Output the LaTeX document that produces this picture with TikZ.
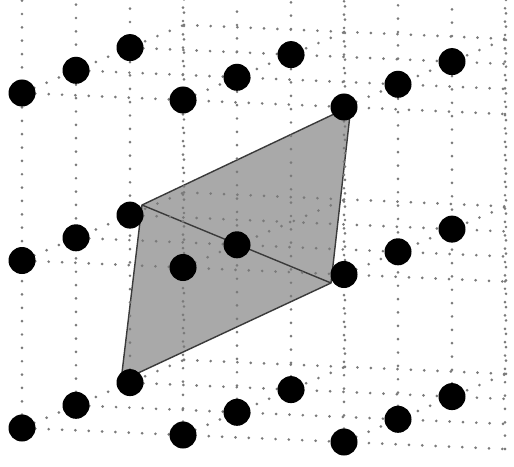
\documentclass[tikz,border=0pt]{standalone}
\usepackage{tikz}
\definecolor{gridgray}{HTML}{7A7A7A}
\definecolor{facegray}{HTML}{A9A9A9}
\definecolor{faceedge}{HTML}{3A3A3A}
\newcommand{\latdot}[2]{%
  \node[circle, fill=black, inner sep=0pt, minimum size=0.675cm] (#1) at (#2) {};}

\begin{document}
\begin{tikzpicture}[x={(4.025cm,-0.175cm)}, y={(1.35cm,0.5675cm)}, z={(0cm,4.1875cm)},
    gridline/.style={gridgray, line width=2.1pt, line cap=round, dash pattern=on 0pt off 9.5pt}]
      \useasboundingbox (-0.55cm,-0.95cm) rectangle (12.3cm,10.7cm);
      \clip (-0.55cm,-0.95cm) rectangle (12.3cm,10.7cm);
      \coordinate (f1) at (3.0cm,5.575cm);
      \coordinate (f2) at (8.225cm,8.05cm);
      \coordinate (f3) at (7.725cm,3.625cm);
      \coordinate (f4) at (2.475cm,1.175cm);
      \filldraw[fill=facegray, draw=faceedge, line width=1pt, line join=round]
        (f1) -- (f2) -- (f3) -- (f4) -- cycle;
      \draw[faceedge, line width=1pt] (f1) -- (f3);
      \foreach \k in {0,1,2} {
        \foreach \j in {0,...,3} \draw[gridline] (0,\j,\k) -- (3,\j,\k);
        \foreach \i in {0,...,3} \draw[gridline] (\i,0,\k) -- (\i,3,\k);
      }
      \foreach \i in {0,...,3} \foreach \j in {0,...,3}
        \draw[gridline] (\i,\j,0) -- (\i,\j,2.9);
      \latdot{p000}{0,0,0}
      \latdot{p010}{0,1,0}
      \latdot{p020}{0,2,0}
      \latdot{p100}{1,0,0}
      \latdot{p110}{1,1,0}
      \latdot{p120}{1,2,0}
      \latdot{p200}{2,0,0}
      \latdot{p210}{2,1,0}
      \latdot{p220}{2,2,0}
      \latdot{p001}{0,0,1}
      \latdot{p011}{0,1,1}
      \latdot{p021}{0,2,1}
      \latdot{p101}{1,0,1}
      \latdot{p111}{1,1,1}
      \latdot{p201}{2,0,1}
      \latdot{p211}{2,1,1}
      \latdot{p221}{2,2,1}
      \latdot{p002}{0,0,2}
      \latdot{p012}{0,1,2}
      \latdot{p022}{0,2,2}
      \latdot{p102}{1,0,2}
      \latdot{p112}{1,1,2}
      \latdot{p122}{1,2,2}
      \latdot{p202}{2,0,2}
      \latdot{p212}{2,1,2}
      \latdot{p222}{2,2,2}
    \end{tikzpicture}
\end{document}
